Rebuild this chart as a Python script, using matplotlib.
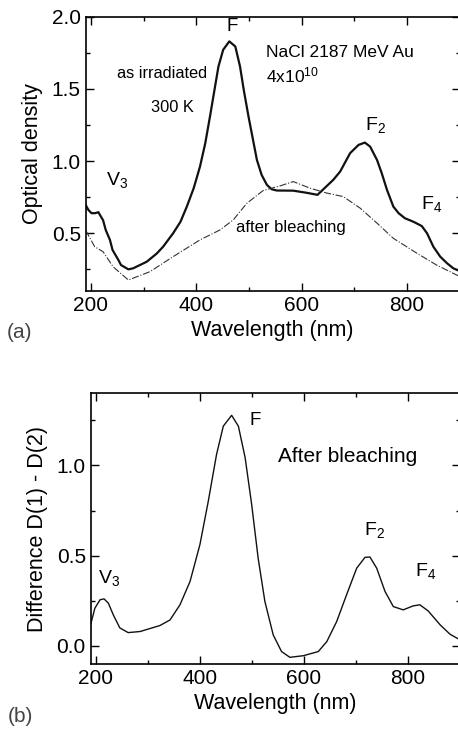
import numpy as np
import matplotlib
matplotlib.use("Agg")
import matplotlib.pyplot as plt
from matplotlib.ticker import MultipleLocator

plt.rcParams['font.family'] = ['Liberation Sans', 'DejaVu Sans']
plt.rcParams['mathtext.fontset'] = 'custom'
plt.rcParams['mathtext.rm'] = 'Liberation Sans'
plt.rcParams['mathtext.it'] = 'Liberation Sans'

# (a) optical density, as irradiated (solid) and after bleaching (dash-dot)
wl_irr = [190, 195, 201, 208, 214, 223, 228, 236, 241, 252, 257, 271, 280, 293,
          306, 325, 337, 356, 370, 382, 395, 407, 417, 426, 442, 451, 462.6, 474,
          483, 490, 499, 515, 524, 534, 543, 553, 584, 610, 630, 660, 673, 692,
          708, 720, 730, 743, 752, 762, 774, 784, 796, 812, 828, 838, 850, 863,
          876, 888, 898]
od_irr = [0.696, 0.662, 0.639, 0.639, 0.646, 0.59, 0.523, 0.454, 0.384, 0.315,
          0.28, 0.25, 0.257, 0.28, 0.303, 0.36, 0.407, 0.50, 0.58, 0.685, 0.812,
          0.962, 1.124, 1.31, 1.655, 1.771, 1.829, 1.794, 1.655, 1.494, 1.31,
          1.008, 0.904, 0.835, 0.805, 0.796, 0.795, 0.78, 0.766, 0.87, 0.927,
          1.055, 1.112, 1.128, 1.10, 1.008, 0.916, 0.80, 0.685, 0.639, 0.604,
          0.58, 0.55, 0.50, 0.407, 0.338, 0.292, 0.257, 0.241]

wl_bl = [190, 207, 223, 242, 271, 312, 356, 407, 445, 470, 496, 527, 559, 584,
         616, 648, 679, 711, 743, 774, 819, 856, 898]
od_bl = [0.52, 0.407, 0.372, 0.268, 0.176, 0.234, 0.338, 0.454, 0.523, 0.592,
         0.708, 0.796, 0.828, 0.858, 0.812, 0.778, 0.754, 0.674, 0.57, 0.465,
         0.361, 0.28, 0.204]

# (b) difference D(1) - D(2)
wl_diff = [190, 198, 208, 215.6, 224, 233.5, 246, 262, 285, 323, 342.5, 361.7,
           381, 400, 416, 432, 445, 461, 474, 487, 499.6, 512, 525, 541, 557,
           573, 599, 627.7, 644, 663, 682, 701.5, 717.5, 727, 740, 756, 772,
           791, 810, 823, 839, 862, 881, 897]
d_diff = [0.12, 0.209, 0.256, 0.261, 0.237, 0.172, 0.10, 0.074, 0.080, 0.113,
          0.144, 0.228, 0.357, 0.561, 0.80, 1.061, 1.218, 1.278, 1.218, 1.043,
          0.783, 0.487, 0.246, 0.061, -0.031, -0.063, -0.054, -0.031, 0.024,
          0.135, 0.283, 0.431, 0.491, 0.493, 0.431, 0.302, 0.218, 0.20, 0.222,
          0.228, 0.194, 0.117, 0.065, 0.039]

W, H = 458, 729
fig = plt.figure(figsize=(W / 100, H / 100), dpi=100)

def setup(ax):
    ax.set_xlim(190, 900)
    ax.xaxis.set_major_locator(MultipleLocator(200))
    ax.xaxis.set_minor_locator(MultipleLocator(100))
    ax.tick_params(which='both', direction='in', top=True, right=True,
                   labelsize=15, width=1)
    ax.tick_params(which='major', length=6)
    ax.tick_params(which='minor', length=3)
    for s in ax.spines.values():
        s.set_linewidth(1.2)
    ax.set_xlabel('Wavelength (nm)', fontsize=15.5, labelpad=4)

# top panel
ax1 = fig.add_axes([85.7 / W, (H - 291) / H, 374 / W, 274.3 / H])
ax1.plot(wl_irr, od_irr, color='#111111', lw=1.6)
ax1.plot(wl_bl, od_bl, color='#333333', lw=0.8, ls='-.')
setup(ax1)
ax1.set_ylim(0.1, 2.0)
ax1.yaxis.set_major_locator(MultipleLocator(0.5))
ax1.yaxis.set_minor_locator(MultipleLocator(0.25))
ax1.set_ylabel('Optical density', fontsize=15.5, labelpad=6)

ax1.text(469, 1.93, 'F', fontsize=13.5, ha='center', va='center')
ax1.text(533, 1.75, 'NaCl 2187 MeV Au', fontsize=12.5, va='center')
ax1.text(533, 1.59, r'4x10$^{10}$', fontsize=12.5, va='center')
ax1.text(249, 1.605, 'as irradiated', fontsize=11.8, va='center')
ax1.text(314, 1.374, '300 K', fontsize=11.8, va='center')
ax1.text(228, 0.87, r'V$_3$', fontsize=14, va='center')
ax1.text(720, 1.25, r'F$_2$', fontsize=14, va='center')
ax1.text(826, 0.70, r'F$_4$', fontsize=14, va='center')
ax1.text(475, 0.539, 'after bleaching', fontsize=12, va='center')

# bottom panel
ax2 = fig.add_axes([90.7 / W, (H - 664) / H, 369.2 / W, 270.7 / H])
ax2.plot(wl_diff, d_diff, color='#111111', lw=1.0)
setup(ax2)
ax2.set_ylim(-0.1, 1.4)
ax2.yaxis.set_major_locator(MultipleLocator(0.5))
ax2.yaxis.set_minor_locator(MultipleLocator(0.25))
ax2.set_ylabel('Difference D(1) - D(2)', fontsize=15.5, labelpad=6)

ax2.text(495, 1.25, 'F', fontsize=13.5, va='center')
ax2.text(551, 1.05, 'After bleaching', fontsize=15, va='center')
ax2.text(715, 0.644, r'F$_2$', fontsize=14, va='center')
ax2.text(813, 0.413, r'F$_4$', fontsize=14, va='center')
ax2.text(204, 0.376, r'V$_3$', fontsize=14, va='center')

fig.text(20 / W, 1 - 333 / H, '(a)', fontsize=15, color='#444444',
         ha='center', va='center')
fig.text(20 / W, 1 - 716 / H, '(b)', fontsize=15, color='#444444',
         ha='center', va='center')

fig.savefig('out.png', dpi=100)
